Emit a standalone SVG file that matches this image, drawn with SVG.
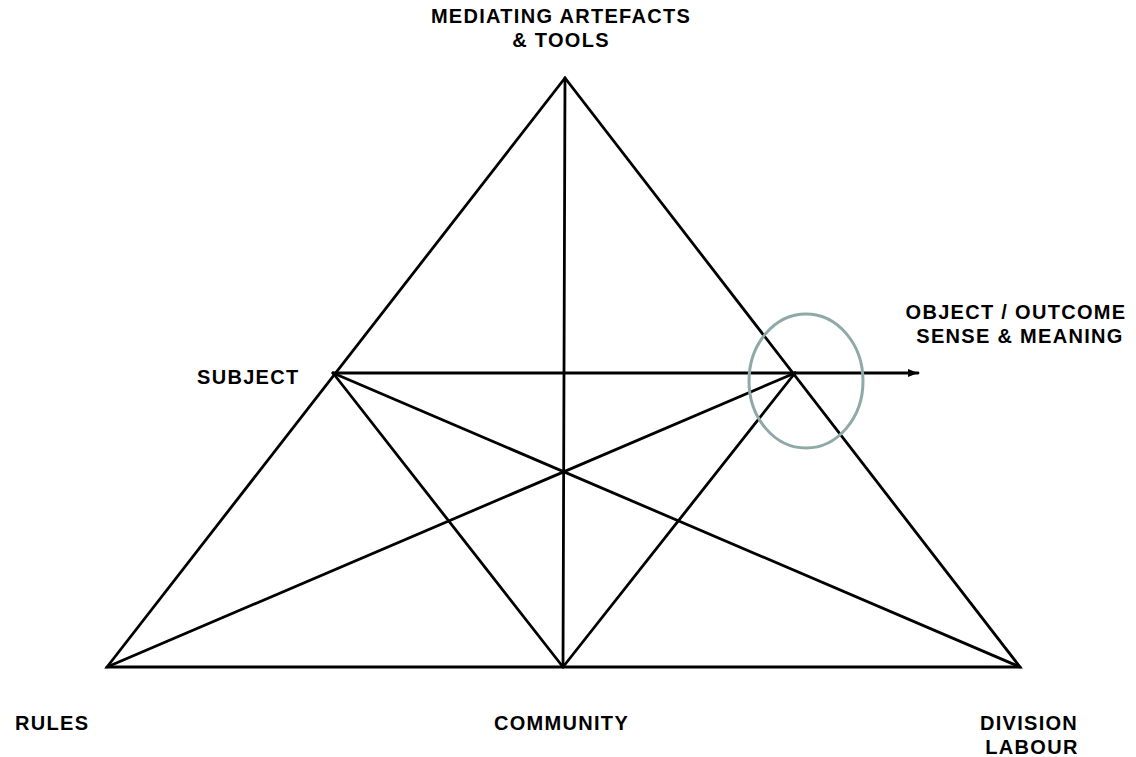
<svg xmlns="http://www.w3.org/2000/svg" width="1136" height="757" viewBox="0 0 1136 757">
<style>
.l{stroke:#000;stroke-width:2.8;fill:none;stroke-linecap:round}
.t{font-family:"Liberation Sans",Arial,sans-serif;font-weight:bold;font-size:20px;letter-spacing:1.3px;fill:#000}
</style>
<defs>
<marker id="ah" viewBox="0 0 10 10" refX="10" refY="5" markerWidth="12" markerHeight="10" markerUnits="userSpaceOnUse" orient="auto">
<path d="M0,1 L10,5 L0,9 Z" fill="#000"/>
</marker>
</defs>
<rect width="1136" height="757" fill="#fff"/>
<g id="connectors">
<path class="l" d="M107,667 L565,78 L1020,667 Z"/>
<line class="l" x1="565" y1="78" x2="563" y2="667"/>
<line class="l" x1="333" y1="373" x2="795" y2="373"/>
<line class="l" x1="795" y1="373" x2="918" y2="373" marker-end="url(#ah)"/>
<line class="l" x1="333" y1="373" x2="563" y2="667"/>
<line class="l" x1="795" y1="373" x2="563" y2="667"/>
<line class="l" x1="333" y1="373" x2="1020" y2="667"/>
<line class="l" x1="795" y1="373" x2="107" y2="667"/>
</g>
<g id="object-highlight">
<ellipse cx="806" cy="381" rx="57" ry="67" fill="none" stroke="#8fa8a8" stroke-width="3"/>
</g>
<g id="node-tools">
<text class="t" x="561" y="23" text-anchor="middle">MEDIATING ARTEFACTS</text>
<text class="t" x="561" y="47" text-anchor="middle">&amp; TOOLS</text>
</g>
<g id="node-object">
<text class="t" x="1016" y="319" text-anchor="middle">OBJECT / OUTCOME</text>
<text class="t" x="1020" y="343" text-anchor="middle">SENSE &amp; MEANING</text>
</g>
<g id="node-subject">
<text class="t" x="197" y="384">SUBJECT</text>
</g>
<g id="node-rules">
<text class="t" x="15" y="730">RULES</text>
</g>
<g id="node-community">
<text class="t" x="494" y="730">COMMUNITY</text>
</g>
<g id="node-division">
<text class="t" x="1029" y="730" text-anchor="middle">DIVISION</text>
<text class="t" x="1032" y="754" text-anchor="middle">LABOUR</text>
</g>
</svg>
